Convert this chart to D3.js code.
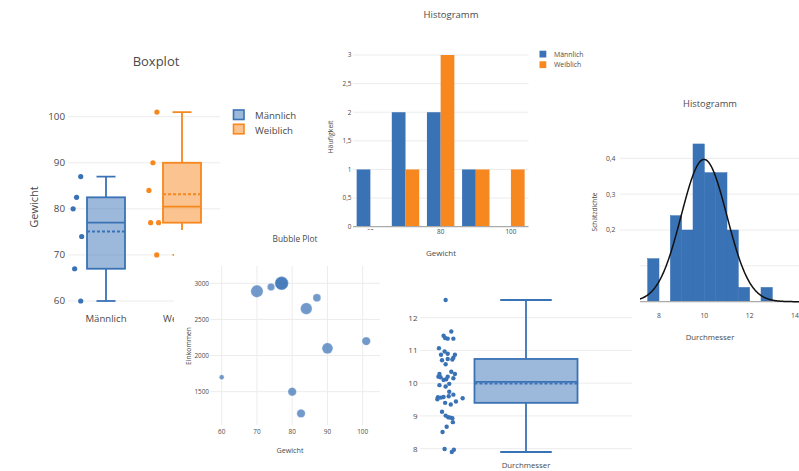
<!DOCTYPE html>
<html>
<head>
<meta charset="utf-8">
<script src="https://cdn.jsdelivr.net/npm/d3@7"></script>
<style>
  html, body { margin: 0; padding: 0; background: #fff; }
  svg { display: block; font-family: "Open Sans", sans-serif; }
</style>
</head>
<body>
<svg id="chart" width="799" height="471"></svg>
<script>
// ---------- Gewicht nach Geschlecht ----------
const gruppen = ["Männlich", "Weiblich"];
const gewichtM = [60, 67, 74, 80, 82.5, 87];
const gewichtW = [70, 77, 77, 84, 90, 101];
// horizontal spread of the sample points, in box half-widths from the box centre
const streuungM = [-1.33, -1.65, -1.28, -1.73, -1.55, -1.33];
const streuungW = [-1.33, -1.65, -1.23, -1.74, -1.53, -1.32];
const gewichtTicks = [60, 70, 80, 90, 100];

// ---------- Histogramm Gewicht ----------
const klassenGrenzen = [55, 65, 75, 85, 95, 105];
const haeufigkeitTicks = [0, 0.5, 1, 1.5, 2, 2.5, 3];
const gewichtHistTicks = [60, 80, 100];

// ---------- Bubble Plot ----------
const bubbleGewicht = [60, 70, 74, 77, 77, 80, 82.5, 84, 87, 90, 101];
const einkommen = [1700, 2890, 2950, 3000, 3000, 1500, 1200, 2650, 2800, 2100, 2200];
const blasenWert = [6, 38, 14, 45, 45, 18, 18, 34, 16, 30, 18];
const einkommenTicks = [1500, 2000, 2500, 3000];
const bubbleXTicks = [60, 70, 80, 90, 100];

// ---------- Durchmesser ----------
const durchmesser = [
  12.54, 11.45, 11.38, 11.36, 11.58, 11.36, 11.07, 10.97, 10.87, 10.90,
  10.87, 10.78, 10.70, 10.74, 10.58, 10.72, 10.35, 10.28, 10.28, 10.20,
  10.18, 10.20, 10.12, 10.15, 10.10, 9.98, 9.94, 9.90, 9.74, 9.65,
  9.57, 9.56, 9.58, 9.60, 9.51, 9.54, 9.44, 9.40, 9.35, 9.13,
  9.01, 8.96, 8.95, 8.93, 8.81, 8.67, 8.51, 7.99, 7.97, 7.90
];
const streuungD = [
  -1.56, -1.60, -1.57, -1.52, -1.45, -1.41, -1.69, -1.58, -1.65, -1.52,
  -1.38, -1.41, -1.63, -1.52, -1.56, -1.43, -1.45, -1.38, -1.68, -1.70,
  -1.66, -1.52, -1.55, -1.41, -1.60, -1.49, -1.68, -1.56, -1.49, -1.41,
  -1.71, -1.65, -1.60, -1.50, -1.72, -1.23, -1.36, -1.57, -1.46, -1.63,
  -1.56, -1.51, -1.47, -1.43, -1.42, -1.54, -1.62, -1.58, -1.40, -1.44
];
const durchmesserTicks = [8, 9, 10, 11, 12];
const dichteTicks = [0.1, 0.2, 0.3, 0.4];
const durchmesserHistTicks = [8, 10, 12, 14];
const klassenBreite = 0.5;

// ---------- styling ----------
const BLUE = "#3a72b6";
const ORANGE = "#f7871f";
const GRID = "#ececec";
const TXT = "#4a4a4a";

const svg = d3.select("#chart");
const deFmt = d3.formatLocale({ decimal: ",", thousands: ".", grouping: [3], currency: ["", "€"] }).format("~g");

function label(g, x, y, str, size, anchor = "middle", rotate = false, color = TXT) {
  const t = g.append("text")
    .attr("font-size", size)
    .attr("fill", color)
    .attr("text-anchor", anchor)
    .text(str);
  if (rotate) t.attr("transform", `translate(${x},${y}) rotate(-90)`);
  else t.attr("x", x).attr("y", y);
  return t;
}

// Tukey hinges, whiskers to the farthest point inside 1.5 IQR
function boxStats(vals) {
  const s = vals.slice().sort(d3.ascending);
  const n = s.length;
  const q1 = d3.median(s.slice(0, Math.floor(n / 2)));
  const q3 = d3.median(s.slice(Math.ceil(n / 2)));
  const iqr = q3 - q1;
  return {
    q1, q3,
    med: d3.median(s),
    mean: d3.mean(s),
    lo: d3.min(s.filter(v => v >= q1 - 1.5 * iqr)),
    hi: d3.max(s.filter(v => v <= q3 + 1.5 * iqr))
  };
}

function drawBox(g, cx, half, y, st, color, fillOpacity) {
  const sw = 1.8;
  g.append("line").attr("x1", cx).attr("x2", cx).attr("y1", y(st.q3)).attr("y2", y(st.hi))
    .attr("stroke", color).attr("stroke-width", sw);
  g.append("line").attr("x1", cx).attr("x2", cx).attr("y1", y(st.q1)).attr("y2", y(st.lo))
    .attr("stroke", color).attr("stroke-width", sw);
  [st.hi, st.lo].forEach(v => {
    g.append("line").attr("x1", cx - half / 2).attr("x2", cx + half / 2)
      .attr("y1", y(v)).attr("y2", y(v)).attr("stroke", color).attr("stroke-width", sw);
  });
  g.append("rect").attr("x", cx - half).attr("width", 2 * half)
    .attr("y", y(st.q3)).attr("height", y(st.q1) - y(st.q3))
    .attr("fill", color).attr("fill-opacity", fillOpacity)
    .attr("stroke", color).attr("stroke-width", sw);
  g.append("line").attr("x1", cx - half).attr("x2", cx + half)
    .attr("y1", y(st.med)).attr("y2", y(st.med)).attr("stroke", color).attr("stroke-width", sw);
  g.append("line").attr("x1", cx - half).attr("x2", cx + half)
    .attr("y1", y(st.mean)).attr("y2", y(st.mean)).attr("stroke", color).attr("stroke-width", sw)
    .attr("stroke-dasharray", "3,2");
}

// the bubble panel sits over the lower right corner of the weight boxplot
const defs = svg.append("defs");
defs.append("clipPath").attr("id", "boxplotClip")
  .append("path").attr("d", "M0,0H330V230H174V471H0Z");

// ================= Boxplot Gewicht =================
(function () {
  const g = svg.append("g").attr("clip-path", "url(#boxplotClip)");
  const x = d3.scaleBand().domain(gruppen).range([68, 220]);
  const y = d3.scaleLinear().domain([60, 100]).range([301, 116.7]);
  gewichtTicks.forEach(t => {
    g.append("line").attr("x1", 68).attr("x2", 220).attr("y1", y(t)).attr("y2", y(t))
      .attr("stroke", GRID).attr("stroke-width", 1);
    label(g, 65, y(t) + 3.4, t, 9.8, "end");
  });
  const sets = [
    { name: gruppen[0], vals: gewichtM, spread: streuungM, color: BLUE },
    { name: gruppen[1], vals: gewichtW, spread: streuungW, color: ORANGE }
  ];
  sets.forEach(s => {
    const cx = x(s.name) + x.bandwidth() / 2;
    const half = x.bandwidth() / 4;
    drawBox(g, cx, half, y, boxStats(s.vals), s.color, 0.5);
    g.selectAll(null).data(s.vals).enter().append("circle")
      .attr("cx", (d, i) => cx + s.spread[i] * half)
      .attr("cy", d => y(d)).attr("r", 2.6).attr("fill", s.color);
    label(g, cx, 321.5, s.name, 9.6);
  });
  label(g, 156, 66, "Boxplot", 13);
  label(g, 37.5, 207, "Gewicht", 11, "middle", true);
  sets.forEach((s, i) => {
    g.append("rect").attr("x", 233.5).attr("y", 110 + i * 14.3).attr("width", 10.5).attr("height", 9.5)
      .attr("fill", s.color).attr("fill-opacity", 0.5).attr("stroke", s.color).attr("stroke-width", 1.6);
    label(g, 255, 119.3 + i * 14.3, s.name, 9.6, "start");
  });
})();

// ================= Histogramm Gewicht =================
(function () {
  const g = svg.append("g");
  const x = d3.scaleLinear().domain([55, 105]).range([352.8, 528.5]);
  const y = d3.scaleLinear().domain([0, 3]).range([226.7, 55]);
  haeufigkeitTicks.forEach(t => {
    if (t > 0) {
      g.append("line").attr("x1", 352.8).attr("x2", 528.5).attr("y1", y(t)).attr("y2", y(t))
        .attr("stroke", GRID);
    }
    label(g, 351.5, y(t) + 2.3, deFmt(t), 6.4, "end");
  });
  const binner = d3.bin().domain([55, 105]).thresholds(klassenGrenzen.slice(1, -1));
  const binsM = binner(gewichtM), binsW = binner(gewichtW);
  const groupFrac = 0.78;
  [binsM, binsW].forEach((bins, k) => {
    g.selectAll(null).data(bins).enter().append("rect")
      .attr("x", d => {
        const w = x(d.x1) - x(d.x0);
        return x(d.x0) + w * (1 - groupFrac) / 2 + k * w * groupFrac / 2;
      })
      .attr("width", d => (x(d.x1) - x(d.x0)) * groupFrac / 2)
      .attr("y", d => y(d.length))
      .attr("height", d => y(0) - y(d.length))
      .attr("fill", k === 0 ? BLUE : ORANGE);
  });
  g.append("line").attr("x1", 353).attr("x2", 528.5).attr("y1", y(0)).attr("y2", y(0))
    .attr("stroke", "#aaa").attr("stroke-width", 1.3);
  gewichtHistTicks.forEach(t => label(g, x(t), 234.3, t, 6.4));
  label(g, 451, 18, "Histogramm", 9.5);
  label(g, 333, 137, "Häufigkeit", 7, "middle", true);
  label(g, 441, 256, "Gewicht", 8);
  [gruppen[0], gruppen[1]].forEach((n, i) => {
    g.append("rect").attr("x", 539.5).attr("y", 50.7 + i * 10.6).attr("width", 6.8).attr("height", 6.8)
      .attr("fill", i === 0 ? BLUE : ORANGE);
    label(g, 554, 56.8 + i * 10.6, n, 6.9, "start");
  });
})();

// ================= Histogramm Durchmesser =================
(function () {
  const g = svg.append("g");
  const x = d3.scaleLinear().domain([8, 14]).range([659, 795]);
  const y = d3.scaleLinear().domain([0, 0.4]).range([301.7, 158.3]);
  const left = 620, right = 810;
  dichteTicks.forEach(t => {
    g.append("line").attr("x1", left).attr("x2", right).attr("y1", y(t)).attr("y2", y(t))
      .attr("stroke", GRID);
    label(g, 615.5, y(t) + 2.4, deFmt(t), 6.8, "end");
  });
  const n = durchmesser.length;
  const bins = d3.bin().domain([7.5, 13]).thresholds(d3.range(8, 13, klassenBreite))(durchmesser);
  g.selectAll(null).data(bins).enter().append("rect")
    .attr("x", d => x(d.x0))
    .attr("width", d => x(d.x1) - x(d.x0))
    .attr("y", d => y(d.length / (n * klassenBreite)))
    .attr("height", d => y(0) - y(d.length / (n * klassenBreite)))
    .attr("fill", BLUE)
    .attr("stroke", d => d.length ? BLUE : "none").attr("stroke-width", 0.5);
  g.append("line").attr("x1", left).attr("x2", right).attr("y1", y(0)).attr("y2", y(0))
    .attr("stroke", "#aaa").attr("stroke-width", 1.3);
  const mu = d3.mean(durchmesser), sd = d3.deviation(durchmesser);
  const pdf = v => Math.exp(-0.5 * ((v - mu) / sd) ** 2) / (sd * Math.sqrt(2 * Math.PI));
  const xs = d3.range(x.invert(left), x.invert(right), 0.02);
  g.append("path").datum(xs)
    .attr("d", d3.line().x(v => x(v)).y(v => y(pdf(v))))
    .attr("fill", "none").attr("stroke", "#111").attr("stroke-width", 1.5);
  durchmesserHistTicks.forEach(t => label(g, x(t), 318, t, 6.8));
  label(g, 710, 107, "Histogramm", 9.3);
  label(g, 710, 340, "Durchmesser", 7.8);
  label(g, 596.5, 212, "Schätzdichte", 6.6, "middle", true);
})();

// ================= Boxplot Durchmesser =================
(function () {
  const g = svg.append("g");
  g.append("rect").attr("x", 395).attr("y", 259).attr("width", 245).attr("height", 212).attr("fill", "#fff");
  const x = d3.scaleBand().domain(["Durchmesser"]).range([420, 632]);
  const y = d3.scaleLinear().domain([8, 12]).range([448.7, 317.7]);
  durchmesserTicks.forEach(t => {
    g.append("line").attr("x1", 420).attr("x2", 632).attr("y1", y(t)).attr("y2", y(t))
      .attr("stroke", GRID);
    label(g, 417.5, y(t) + 2.8, t, 8, "end");
  });
  const cx = x("Durchmesser") + x.bandwidth() / 2;
  const half = x.bandwidth() * 0.243;
  drawBox(g, cx, half, y, boxStats(durchmesser), BLUE, 0.5);
  g.selectAll(null).data(durchmesser).enter().append("circle")
    .attr("cx", (d, i) => cx + streuungD[i] * half)
    .attr("cy", d => y(d)).attr("r", 2.2).attr("fill", BLUE);
  label(g, cx, 468.3, "Durchmesser", 7.8);
})();

// ================= Bubble Plot =================
(function () {
  const g = svg.append("g");
  g.append("rect").attr("x", 174).attr("y", 230).attr("width", 218).attr("height", 241).attr("fill", "#fff");
  const x = d3.scaleLinear().domain([60, 100]).range([221.7, 362.7]);
  const y = d3.scaleLinear().domain([1500, 3000]).range([391.7, 283.3]);
  const r = d3.scaleSqrt().domain([0, 45]).range([0, 6.7]);
  bubbleXTicks.forEach(t => {
    g.append("line").attr("x1", x(t)).attr("x2", x(t)).attr("y1", 266).attr("y2", 425).attr("stroke", GRID);
    label(g, x(t), 433.5, t, 6.4);
  });
  einkommenTicks.forEach(t => {
    g.append("line").attr("x1", 210).attr("x2", 380).attr("y1", y(t)).attr("y2", y(t)).attr("stroke", GRID);
    label(g, 209, y(t) + 2.2, t, 6.4, "end");
  });
  g.selectAll(null).data(bubbleGewicht).enter().append("circle")
    .attr("cx", d => x(d))
    .attr("cy", (d, i) => y(einkommen[i]))
    .attr("r", (d, i) => r(blasenWert[i]))
    .attr("fill", BLUE).attr("fill-opacity", 0.72)
    .attr("stroke", "#fff").attr("stroke-width", 0.5).attr("stroke-opacity", 0.6);
  label(g, 295, 241.5, "Bubble Plot", 8.4);
  label(g, 290, 453, "Gewicht", 7.2);
  label(g, 190.5, 346, "Einkommen", 6.8, "middle", true);
})();
</script>
</body>
</html>
